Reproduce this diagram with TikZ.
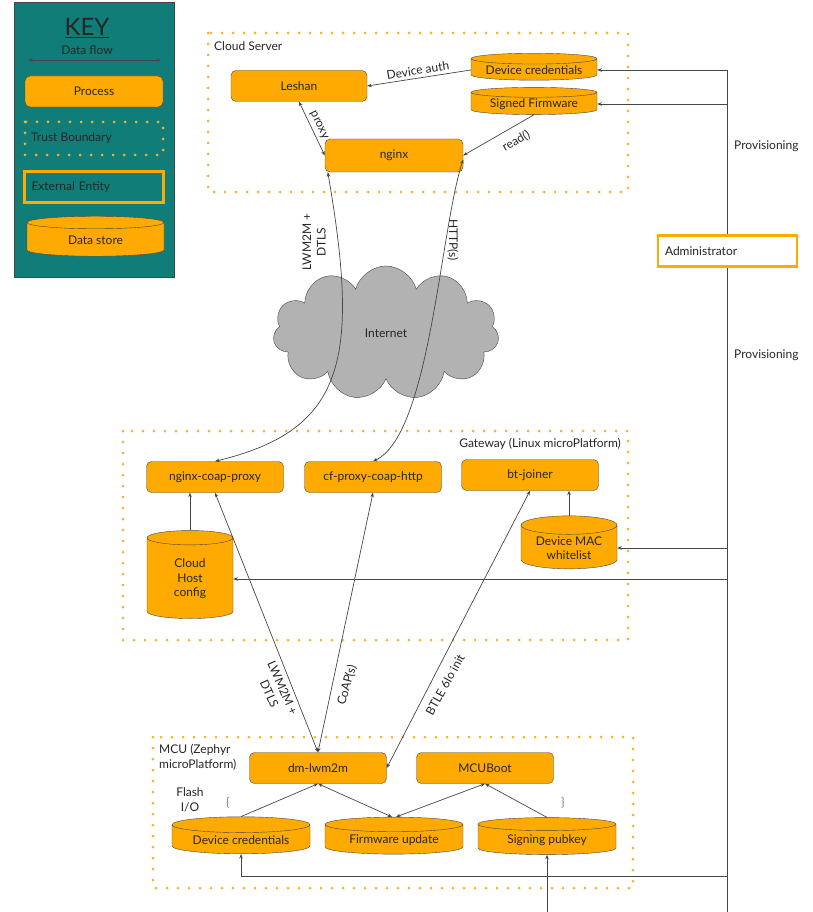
\documentclass[tikz,border=0pt]{standalone}
\usepackage{fontspec}
\setmainfont{Lato}
\usetikzlibrary{shapes.geometric,shapes.symbols,arrows.meta}

\definecolor{procorange}{RGB}{255,170,0}
\definecolor{dotorange}{RGB}{245,178,45}
\definecolor{keyteal}{RGB}{17,125,120}
\definecolor{inkgray}{RGB}{70,70,70}
\definecolor{cloudgray}{RGB}{178,178,178}

\begin{document}
\begin{tikzpicture}[x=1pt,y=-1pt,>={Stealth[length=4.5pt,width=3.5pt]},
                    font=\fontsize{12}{14.5}\selectfont]
\tikzstyle{process}=[draw=inkgray, fill=procorange, rounded corners=5pt,
                     minimum width=137pt, minimum height=31pt, text=black!85]
\tikzstyle{store}=[cylinder, shape border rotate=90, draw=inkgray,
                   fill=procorange, text=black!85, align=center, inner sep=1pt]
\tikzstyle{entity}=[draw=procorange, line width=2.5pt, minimum height=31pt,
                    text width=125pt, inner xsep=7pt, align=left, text=black!85]
\tikzstyle{trust}=[draw=dotorange, line width=3pt, dash pattern=on 0pt off 11pt,
                   line cap=round]
\tikzstyle{flow}=[draw=inkgray, line width=0.7pt]
\tikzstyle{lbl}=[text=black!85, inner sep=0pt]
\useasboundingbox (0,0) rectangle (812,912);

% key
\node[draw=inkgray, fill=keyteal, minimum width=160pt, minimum height=275pt] (keybox) at (94,139.5) {};
\node[lbl] (keytitle) at (87,28) {\fontsize{24}{26}\selectfont\underline{KEY}};
\node[lbl] (keyflow) at (87,50) {Data flow};
\coordinate (flowl) at (28,60);
\coordinate (flowr) at (161,60);
\draw[flow,<->] (flowl) -- (flowr);
\node[process, minimum width=138pt] (keyproc) at (94,91.5) {Process};
\draw[trust] (25,122) rectangle (163,155);
\node[lbl, anchor=west] (keytrust) at (31,138) {Trust Boundary};
\node[entity] (keyext) at (94,187) {External Entity};
\node[store, minimum width=137pt, minimum height=40pt, aspect=0.22] (keystore) at (95.5,240) {Data store};

% trust boundaries
\draw[trust] (208,33) rectangle (628,192);
\draw[trust] (123,431) rectangle (628,640);
\draw[trust] (153,737) rectangle (633,888);
\node[lbl, anchor=west] (cloudlbl) at (214,46) {Cloud Server};
\node[lbl, anchor=east] (gwlbl) at (621,444) {Gateway (Linux microPlatform)};
\node[lbl, anchor=north west, align=left] (mculbl) at (159,744) {MCU (Zephyr\\microPlatform)};

% cloud server
\node[process, minimum width=136pt] (leshan) at (299,86) {Leshan};
\node[store, minimum width=126pt, minimum height=27pt, aspect=0.11] (credcloud) at (534,70) {Device credentials};
\node[store, minimum width=126pt, minimum height=26pt, aspect=0.11] (signedfw) at (534,104) {Signed Firmware};
\node[process, minimum width=138pt, minimum height=33pt] (nginx) at (394,155.5) {nginx};

\node[cloud, cloud puffs=11, aspect=1.7, draw=inkgray, fill=cloudgray,
      minimum width=226pt, minimum height=134pt, text=black!85] (internet) at (386,333) {Internet};

% gateway
\node[process] (coapproxy) at (215,477) {nginx-coap-proxy};
\node[process] (cfproxy) at (373,477) {cf-proxy-coap-http};
\node[process] (btjoiner) at (530,475) {bt-joiner};
\node[store, minimum width=86pt, minimum height=88pt, aspect=0.42] (hostcfg) at (190,579) {Cloud\\Host\\config};
\node[store, minimum width=96pt, minimum height=53pt, aspect=0.27] (macwl) at (569,548) {Device MAC\\whitelist};

% mcu
\node[process] (dmlwm) at (318,768) {dm-lwm2m};
\node[process] (mcuboot) at (485,768) {MCUBoot};
\node[store, minimum width=138pt, minimum height=37pt, aspect=0.16] (credmcu) at (241,840) {Device credentials};
\node[store, minimum width=138pt, minimum height=37pt, aspect=0.16] (fwupdate) at (394,840) {Firmware update};
\node[store, minimum width=138pt, minimum height=37pt, aspect=0.16] (pubkey) at (547,840) {Signing pubkey};
\node[lbl, align=center] (flashio) at (190,800) {Flash\\I/O};
\node[lbl, text=black!50] (bracel) at (228,803) {\{};
\node[lbl, text=black!50] (bracer) at (563,803) {\}};

% administrator
\node[entity, fill=white] (admin) at (727.5,251) {Administrator};
\node[lbl, anchor=west] (prov1) at (734,146) {Provisioning};
\node[lbl, anchor=west] (prov2) at (734,355) {Provisioning};

% flows in the cloud server
\draw[flow,->] (credcloud.west) -- node[lbl, sloped, above=3pt, pos=0.5] (authlbl) {Device auth} (leshan.east);
\draw[flow,<->] (leshan.south) -- node[lbl, sloped, above=3pt] (proxylbl) {proxy} (nginx.west);
\draw[flow,->] (signedfw.south) -- node[lbl, sloped, below=8pt, pos=0.35] (readlbl) {read()} (nginx.east);

% through the internet
\draw[flow,<->] ([xshift=3pt]nginx.south west) .. controls (360,360) and (345,430) .. (coapproxy.north);
\draw[flow,<->] ([yshift=-4pt]nginx.east) .. controls (440,230) and (430,435) .. (cfproxy.north);
\node[lbl, rotate=90, align=center] (lwlbl1) at (314,242) {LWM2M +\\DTLS};
\node[lbl, rotate=-90] (httplbl) at (453,240) {HTTP(s)};

% gateway to mcu
\foreach \a/\b in {coapproxy.south/dmlwm.north, cfproxy.south/dmlwm.north,
                   btjoiner.south/dmlwm.east}{\draw[flow,<->] (\a) -- (\b);}
\node[lbl, rotate=-66, align=center] (lwlbl2) at (276,691) {LWM2M +\\DTLS};
\node[lbl, rotate=74] (coaplbl) at (347,685) {CoAP(s)};
\node[lbl, rotate=61] (btlelbl) at (445,685) {BTLE 6lo init};

% inside gateway and mcu
\draw[flow,->] (hostcfg.north) -- (hostcfg.north |- coapproxy.south);
\draw[flow,->] (macwl.north) -- (macwl.north |- btjoiner.south);
\draw[flow,->] (credmcu.north) -- (dmlwm.south);
\draw[flow,<->] ([xshift=-2pt]fwupdate.north) -- (dmlwm.south);
\draw[flow,<->] ([xshift=2pt]fwupdate.north) -- (mcuboot.south);
\draw[flow,->] (pubkey.north) -- (mcuboot.south);

% provisioning
\foreach \t in {credcloud,signedfw}{\draw[flow,->] (admin.north) |- (\t.east);}
\foreach \t in {macwl,hostcfg}{\draw[flow,->] (admin.south) |- (\t.east);}
\coordinate (adminfoot) at (727.5,912);
\coordinate (credturn) at (727.5,876);
\coordinate (keyfoot) at (547,912);
\draw[flow] (admin.south) -- (adminfoot);
\draw[flow,->] (credturn) -| (credmcu.south);
\draw[flow,->] (keyfoot) -- (pubkey.south);
\end{tikzpicture}
\end{document}
